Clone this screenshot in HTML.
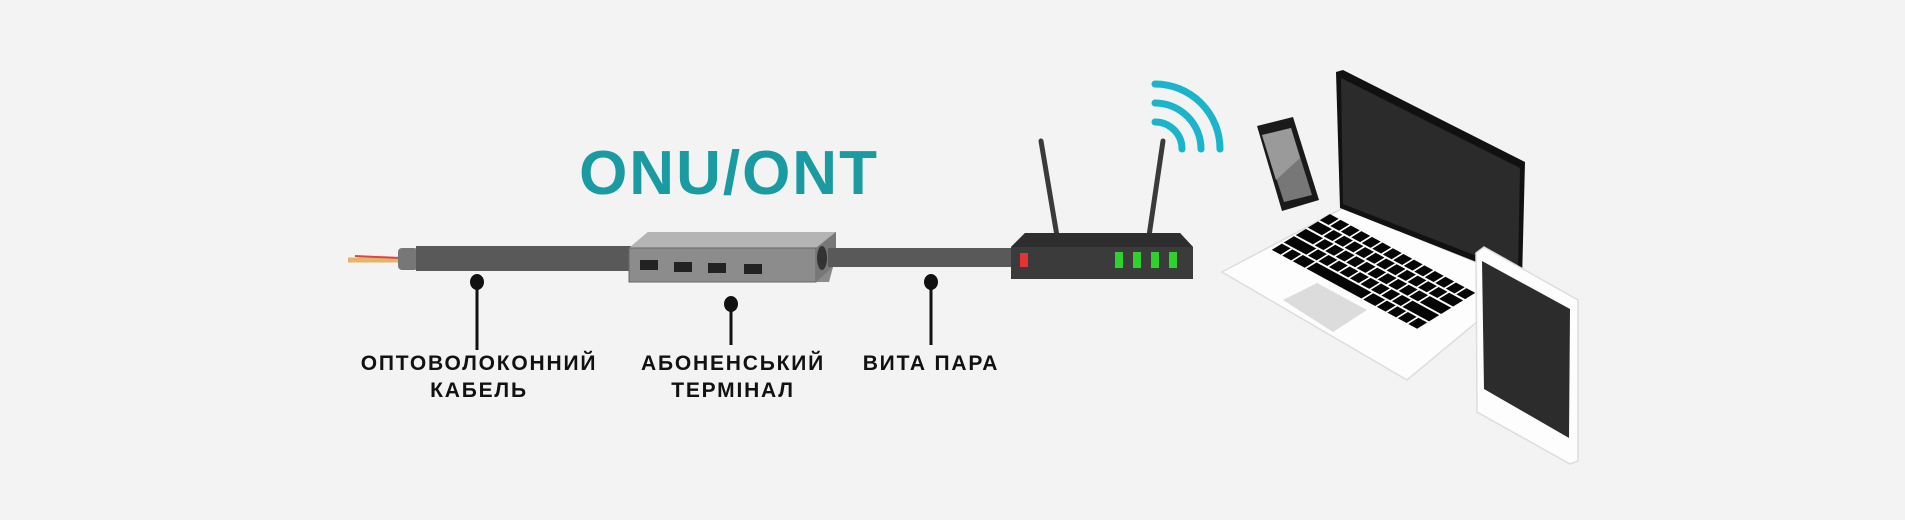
<!DOCTYPE html>
<html><head><meta charset="utf-8"><style>
html,body{margin:0;padding:0;background:#f3f3f3;}
svg{display:block}
text{font-family:"Liberation Sans",sans-serif;font-weight:bold;}
</style></head><body>
<svg width="1905" height="520" viewBox="0 0 1905 520" xmlns="http://www.w3.org/2000/svg">
<rect width="1905" height="520" fill="#f3f3f3"/>
<text x="729" y="194" font-size="62" fill="#1a9ba1" text-anchor="middle" letter-spacing="2">ONU/ONT</text>
<line x1="348" y1="260" x2="400" y2="260" stroke="#e6b36a" stroke-width="5"/>
<line x1="355" y1="256" x2="400" y2="258" stroke="#d44" stroke-width="2"/>
<rect x="398" y="248" width="20" height="22" rx="4" fill="#777"/>
<rect x="416" y="246" width="216" height="25" fill="#595959"/>
<polygon points="629,248 648,232 836,232 836,256 829,282 629,282" fill="#8a8a8a"/>
<polygon points="629,248 648,232 836,232 816,248" fill="#b4b4b4"/>
<rect x="629" y="248" width="187" height="34" fill="#8c8c8c" stroke="#666" stroke-width="1"/>
<polygon points="816,248 836,232 836,264 816,282" fill="#777"/>
<rect x="640" y="260" width="18" height="10" fill="#222"/>
<rect x="674" y="262" width="18" height="10" fill="#222"/>
<rect x="708" y="263" width="18" height="10" fill="#222"/>
<rect x="744" y="264" width="18" height="10" fill="#222"/>
<ellipse cx="822" cy="258" rx="5" ry="12" fill="#333"/>
<rect x="828" y="248" width="187" height="19" fill="#595959"/>
<line x1="1041" y1="141" x2="1057" y2="236" stroke="#3a3a3a" stroke-width="5" stroke-linecap="round"/>
<line x1="1163" y1="141" x2="1149" y2="236" stroke="#3a3a3a" stroke-width="5" stroke-linecap="round"/>
<polygon points="1011,247 1025,233 1180,233 1193,247 1193,279 1011,279" fill="#3b3b3b"/>
<polygon points="1011,247 1025,233 1180,233 1193,247" fill="#2e2e2e"/>
<rect x="1020" y="253" width="8" height="14" fill="#e83333"/>
<rect x="1115" y="252" width="8" height="16" fill="#2dd22d"/>
<rect x="1133" y="252" width="8" height="16" fill="#2dd22d"/>
<rect x="1151" y="252" width="8" height="16" fill="#2dd22d"/>
<rect x="1169" y="252" width="8" height="16" fill="#2dd22d"/>
<g fill="none" stroke="#1ab4cb" stroke-width="7" stroke-linecap="round">
<path d="M1155 122 A27 27 0 0 1 1182 149"/>
<path d="M1155 103 A46 46 0 0 1 1201 149"/>
<path d="M1155 84 A65 65 0 0 1 1220 149"/>
</g>
<g stroke="#111" stroke-width="3">
<line x1="477" y1="282" x2="477" y2="350"/>
<line x1="731" y1="304" x2="731" y2="345"/>
<line x1="931" y1="282" x2="931" y2="345"/>
</g>
<g fill="#111"><ellipse cx="477" cy="282" rx="7" ry="8"/><ellipse cx="731" cy="304" rx="7" ry="8"/><ellipse cx="931" cy="282" rx="7" ry="8"/></g>
<g font-size="21" fill="#111" text-anchor="middle" letter-spacing="1.8">
<text x="479" y="370">ОПТОВОЛОКОННИЙ</text>
<text x="479" y="397">КАБЕЛЬ</text>
<text x="733" y="370">АБОНЕНСЬКИЙ</text>
<text x="733" y="397">ТЕРМІНАЛ</text>
<text x="931" y="370">ВИТА ПАРА</text>
</g>
<polygon points="1222,272 1343,208 1525,282 1407,380" fill="#fdfdfd" stroke="#ddd" stroke-width="1.5"/>
<polygon points="1336,72 1343,70 1525,162 1522,280 1340,208" fill="#111"/>
<polygon points="1341,78 1520,168 1518,272 1343,204" fill="#2b2b2b"/>
<polygon points="1283,300 1317,283 1367,310 1333,332" fill="#dcdcdc"/>
<g transform="matrix(10.5,5.7,-12,7.4,1330,213)" fill="#050505">
<path d="M0.08 0.08h0.84v0.84h-0.84z M1.08 0.08h0.84v0.84h-0.84z M2.08 0.08h0.84v0.84h-0.84z M3.08 0.08h0.84v0.84h-0.84z M4.08 0.08h0.84v0.84h-0.84z M5.08 0.08h0.84v0.84h-0.84z M6.08 0.08h0.84v0.84h-0.84z M7.08 0.08h0.84v0.84h-0.84z M8.08 0.08h0.84v0.84h-0.84z M9.08 0.08h0.84v0.84h-0.84z M10.08 0.08h0.84v0.84h-0.84z M11.08 0.08h0.84v0.84h-0.84z M12.08 0.08h0.84v0.84h-0.84z M13.08 0.08h0.84v0.84h-0.84z"/>
<path d="M0.08 1.08h1.34v0.84h-1.34z M1.58 1.08h0.84v0.84h-0.84z M2.58 1.08h0.84v0.84h-0.84z M3.58 1.08h0.84v0.84h-0.84z M4.58 1.08h0.84v0.84h-0.84z M5.58 1.08h0.84v0.84h-0.84z M6.58 1.08h0.84v0.84h-0.84z M7.58 1.08h0.84v0.84h-0.84z M8.58 1.08h0.84v0.84h-0.84z M9.58 1.08h0.84v0.84h-0.84z M10.58 1.08h0.84v0.84h-0.84z M11.58 1.08h0.84v0.84h-0.84z M12.58 1.08h1.34v0.84h-1.34z"/>
<path d="M0.08 2.08h1.64v0.84h-1.64z M1.88 2.08h0.84v0.84h-0.84z M2.88 2.08h0.84v0.84h-0.84z M3.88 2.08h0.84v0.84h-0.84z M4.88 2.08h0.84v0.84h-0.84z M5.88 2.08h0.84v0.84h-0.84z M6.88 2.08h0.84v0.84h-0.84z M7.88 2.08h0.84v0.84h-0.84z M8.88 2.08h0.84v0.84h-0.84z M9.88 2.08h0.84v0.84h-0.84z M10.88 2.08h0.84v0.84h-0.84z M11.88 2.08h2.04v0.84h-2.04z"/>
<path d="M0.08 3.08h2.14v0.84h-2.14z M2.38 3.08h0.84v0.84h-0.84z M3.38 3.08h0.84v0.84h-0.84z M4.38 3.08h0.84v0.84h-0.84z M5.38 3.08h0.84v0.84h-0.84z M6.38 3.08h0.84v0.84h-0.84z M7.38 3.08h0.84v0.84h-0.84z M8.38 3.08h0.84v0.84h-0.84z M9.38 3.08h0.84v0.84h-0.84z M10.38 3.08h0.84v0.84h-0.84z M11.38 3.08h2.54v0.84h-2.54z"/>
<path d="M0.08 4.08h0.84v0.84h-0.84z M1.08 4.08h0.84v0.84h-0.84z M2.08 4.08h1.14v0.84h-1.14z M3.38 4.08h5.24v0.84h-5.24z M8.78 4.08h1.14v0.84h-1.14z M10.08 4.08h0.84v0.84h-0.84z M11.08 4.08h0.84v0.84h-0.84z M12.08 4.08h0.84v0.84h-0.84z M13.08 4.08h0.84v0.84h-0.84z"/>
</g>
<polygon points="1257,126 1293,117 1319,200 1282,211" fill="#1a1a1a"/>
<polygon points="1262,135 1291,128 1312,195 1284,202" fill="#777"/>
<polygon points="1262,135 1291,128 1300,158 1276,180" fill="#9a9a9a"/>
<polygon points="1476,253 1484,247 1578,300 1578,461 1570,464 1477,412" fill="#fdfdfd" stroke="#ddd" stroke-width="1.5"/>
<polygon points="1482,261 1570,309 1569,438 1484,389" fill="#2c2c2c"/>
</svg>
</body></html>
